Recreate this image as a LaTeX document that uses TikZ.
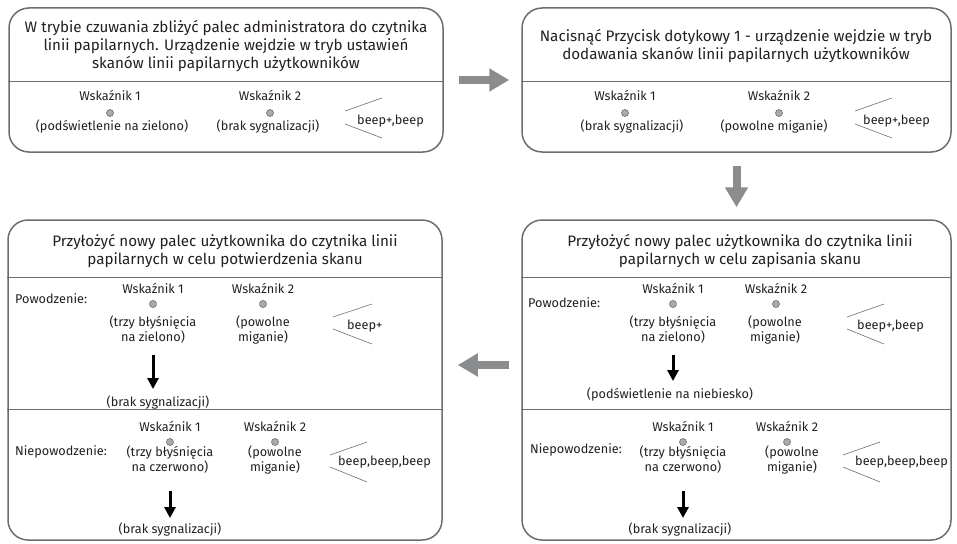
\documentclass[tikz,border=0pt]{standalone}
\usepackage{fontspec}
\setmainfont{Fira Sans}
\usepackage{tikz}
\usetikzlibrary{arrows.meta,calc,positioning}
\definecolor{boxgray}{RGB}{108,109,111}
\definecolor{arrowgray}{RGB}{138,140,142}
\definecolor{ledgray}{RGB}{168,170,172}
\definecolor{textgray}{RGB}{35,31,32}

\begin{document}
\begin{tikzpicture}[x=1pt,y=-1pt]

           \tikzstyle{every node}=[text=textgray, inner sep=0pt, font=\fontsize{12.7}{15}\selectfont]
           \tikzstyle{box}=[draw=boxgray, line width=1.5pt, rounded corners=20pt]
           \tikzstyle{title}=[align=center, font=\fontsize{15.2}{18}\selectfont]
           \tikzstyle{info}=[align=center]
           \tikzstyle{lbl}=[text height=9pt, text depth=2.5pt]
           \tikzstyle{led}=[circle, draw=boxgray, fill=ledgray, line width=0.6pt, minimum size=7pt]
           \tikzstyle{divline}=[draw=boxgray, line width=0.8pt]
           \tikzstyle{beepline}=[draw=boxgray, line width=0.6pt]
           \tikzstyle{bigarrow}=[draw=arrowgray, line width=8pt, -{Triangle[length=20pt,width=22pt]}]
           \tikzstyle{smallarrow}=[draw=black, line width=3pt, -{Triangle[length=11pt,width=11pt]}]

    \useasboundingbox (0,0) rectangle (957,543);

    % boxes
    \node[box, minimum width=434pt, minimum height=144pt] (A) at (226,80) {};
    \node[box, minimum width=429pt, minimum height=144pt] (B) at (736.5,80) {};
    \node[box, minimum width=429pt, minimum height=320pt] (C) at (736.5,380) {};
    \node[box, minimum width=434pt, minimum height=320pt] (D) at (225,380) {};

    \draw[divline] (A.west |- 0,81) -- (A.east |- 0,81);
    \draw[divline] (B.west |- 0,81) -- (B.east |- 0,81);
    \draw[divline] (C.west |- 0,277) -- (C.east |- 0,277);
    \draw[divline] (C.west |- 0,409) -- (C.east |- 0,409);
    \draw[divline] (D.west |- 0,277) -- (D.east |- 0,277);
    \draw[divline] (D.west |- 0,409) -- (D.east |- 0,409);

    % box A
    \node[title] (At) at (226,46) {W trybie czuwania zbliżyć palec administratora do czytnika\\linii papilarnych. Urządzenie wejdzie w tryb ustawień\\skanów linii papilarnych użytkowników};
    \node[lbl] (Aw1) at (110,97) {Wskaźnik 1};
    \node[led] (Al1) at (110,113) {};
    \node[lbl] (As1) at (112,127) {(podświetlenie na zielono)};
    \node[lbl] (Aw2) at (270,97) {Wskaźnik 2};
    \node[led] (Al2) at (270,113) {};
    \node[lbl] (As2) at (268,127) {(brak sygnalizacji)};
    \node[lbl, anchor=west] (Ab) at (357,121) {beep+,beep};
    \draw[beepline] ([shift={(-12,-10)}]Ab.west) -- ++(37,-13);
    \draw[beepline] ([shift={(-12,3)}]Ab.west) -- ++(37,14);

    % box B
    \node[title] (Bt) at (736,46) {Nacisnąć Przycisk dotykowy 1 - urządzenie wejdzie w tryb\\dodawania skanów linii papilarnych użytkowników};
    \node[lbl] (Bw1) at (625,97) {Wskaźnik 1};
    \node[led] (Bl1) at (625,113) {};
    \node[lbl] (Bs1) at (632,127) {(brak sygnalizacji)};
    \node[lbl] (Bw2) at (779,97) {Wskaźnik 2};
    \node[led] (Bl2) at (779,113) {};
    \node[lbl] (Bs2) at (774,127) {(powolne miganie)};
    \node[lbl, anchor=west] (Bb) at (863,121) {beep+,beep};
    \draw[beepline] ([shift={(-8,-10)}]Bb.west) -- ++(37,-13);
    \draw[beepline] ([shift={(-8,3)}]Bb.west) -- ++(37,14);

    % box C
    \node[title] (Ct) at (740,251) {Przyłożyć nowy palec użytkownika do czytnika linii\\papilarnych w celu zapisania skanu};
    \node[lbl, anchor=west] (Cp) at (528,304) {Powodzenie:};
    \node[lbl] (Cw1) at (673,290) {Wskaźnik 1};
    \node[led] (Cl1) at (673,304) {};
    \node[info] (Cs1) at (673,330) {(trzy błyśnięcia\\na zielono)};
    \node[lbl] (Cw2) at (776,290) {Wskaźnik 2};
    \node[led] (Cl2) at (776,304) {};
    \node[info] (Cs2) at (775,330) {(powolne\\miganie)};
    \node[lbl, anchor=west] (Cb1) at (857,326) {beep+,beep};
    \draw[beepline] ([shift={(-10,-9)}]Cb1.west) -- ++(37,-13);
    \draw[beepline] ([shift={(-10,3)}]Cb1.west) -- ++(37,15);
    \node[lbl] (Cr1) at (670,395) {(podświetlenie na niebiesko)};

    \node[lbl, anchor=west] (Cn) at (530,450) {Niepowodzenie:};
    \node[lbl] (Cw3) at (683,428) {Wskaźnik 1};
    \node[led] (Cl3) at (683,442) {};
    \node[info] (Cs3) at (683,460) {(trzy błyśnięcia\\na czerwono)};
    \node[lbl] (Cw4) at (787,428) {Wskaźnik 2};
    \node[led] (Cl4) at (787,442) {};
    \node[info] (Cs4) at (792,460) {(powolne\\miganie)};
    \node[lbl, anchor=west] (Cb2) at (855,462) {beep,beep,beep};
    \draw[beepline] ([shift={(-12,-7)}]Cb2.west) -- ++(37,-13);
    \draw[beepline] ([shift={(-12,5)}]Cb2.west) -- ++(37,15);
    \node[lbl] (Cr2) at (680,530) {(brak sygnalizacji)};

    % box D
    \node[title] (Dt) at (225,251) {Przyłożyć nowy palec użytkownika do czytnika linii\\papilarnych w celu potwierdzenia skanu};
    \node[lbl, anchor=west] (Dp) at (15,300) {Powodzenie:};
    \node[lbl] (Dw1) at (153,290) {Wskaźnik 1};
    \node[led] (Dl1) at (153,304) {};
    \node[info] (Ds1) at (153,330) {(trzy błyśnięcia\\na zielono)};
    \node[lbl] (Dw2) at (263,290) {Wskaźnik 2};
    \node[led] (Dl2) at (263,304) {};
    \node[info] (Ds2) at (263,330) {(powolne\\miganie)};
    \node[lbl, anchor=west] (Db1) at (347,326) {beep+};
    \draw[beepline] ([shift={(-14,-9)}]Db1.west) -- ++(39,-13);
    \draw[beepline] ([shift={(-14,3)}]Db1.west) -- ++(39,15);
    \node[lbl] (Dr1) at (158,403) {(brak sygnalizacji)};

    \node[lbl, anchor=west] (Dn) at (15,452) {Niepowodzenie:};
    \node[lbl] (Dw3) at (170,428) {Wskaźnik 1};
    \node[led] (Dl3) at (170,442) {};
    \node[info] (Ds3) at (170,460) {(trzy błyśnięcia\\na czerwono)};
    \node[lbl] (Dw4) at (275,428) {Wskaźnik 2};
    \node[led] (Dl4) at (275,442) {};
    \node[info] (Ds4) at (275,460) {(powolne\\miganie)};
    \node[lbl, anchor=west] (Db2) at (338,462) {beep,beep,beep};
    \draw[beepline] ([shift={(-8,-7)}]Db2.west) -- ++(37,-13);
    \draw[beepline] ([shift={(-8,5)}]Db2.west) -- ++(37,15);
    \node[lbl] (Dr2) at (170,530) {(brak sygnalizacji)};

    % black arrows
    \draw[smallarrow, shorten <=11pt, shorten >=8pt] (Cs1.south) -- (Cs1.south |- Cr1.north);
    \draw[smallarrow, shorten <=17pt, shorten >=6pt] (Cs3.south) -- (Cs3.south |- Cr2.north);
    \draw[smallarrow, shorten <=11pt, shorten >=8pt] (Ds1.south) -- (Ds1.south |- Dr1.north);
    \draw[smallarrow, shorten <=17pt, shorten >=6pt] (Ds3.south) -- (Ds3.south |- Dr2.north);

    % gray arrows
    \draw[bigarrow, shorten <=15pt, shorten >=12pt] (A) -- (B);
    \draw[bigarrow, shorten <=13pt, shorten >=12pt] (B) -- (C);
    \draw[bigarrow, shorten <=12pt, shorten >=15pt] ([yshift=15pt]C.west) -- ([yshift=15pt]D.east);

\end{tikzpicture}
\end{document}
